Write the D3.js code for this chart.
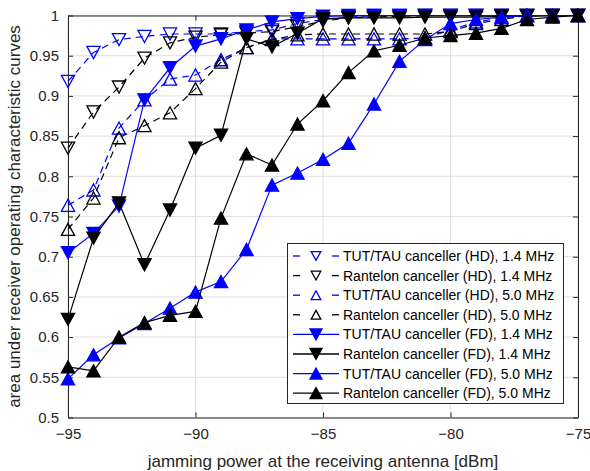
<!DOCTYPE html>
<html><head><meta charset="utf-8">
<script src="https://cdn.jsdelivr.net/npm/d3@7"></script>
<style>body{margin:0;background:#fff;} svg{display:block;font-family:"Liberation Sans",Arial,sans-serif;}</style>
</head><body>
<svg id="c" width="590" height="471"></svg>
<script>
const xValues = [-95,-94,-93,-92,-91,-90,-89,-88,-87,-86,-85,-84,-83,-82,-81,-80,-79,-78,-77,-76,-75];
const tutHD14  = [0.918,0.954,0.970,0.974,0.977,0.977,0.977,0.980,0.982,0.990,0.995,0.998,1.0,1.0,1.0,1.0,1.0,1.0,1.0,1.0,1.0];
const ranHD14  = [0.835,0.880,0.911,0.947,0.966,0.973,0.976,0.978,0.980,0.986,0.993,0.997,0.998,0.999,1.0,1.0,1.0,1.0,1.0,1.0,1.0];
const tutHD50  = [0.764,0.783,0.860,0.895,0.921,0.926,0.945,0.960,0.971,0.971,0.971,0.971,0.971,0.971,0.972,0.982,0.992,0.997,1.0,1.0,1.0];
const ranHD50  = [0.734,0.773,0.848,0.863,0.879,0.909,0.942,0.960,0.970,0.976,0.977,0.977,0.977,0.977,0.977,0.980,0.990,0.995,1.0,1.0,1.0];
const tutFD14  = [0.705,0.729,0.763,0.895,0.935,0.962,0.971,0.982,0.992,0.996,0.999,1.0,1.0,1.0,1.0,1.0,1.0,1.0,1.0,1.0,1.0];
const ranFD14  = [0.622,0.723,0.767,0.690,0.758,0.835,0.851,0.971,0.961,0.978,0.996,0.997,0.997,0.997,0.998,0.998,0.998,0.999,0.999,1.0,1.0];
const tutFD50  = [0.548,0.578,0.599,0.617,0.636,0.656,0.669,0.709,0.789,0.804,0.821,0.841,0.890,0.943,0.970,0.990,0.995,0.998,1.0,1.0,1.0];
const ranFD50  = [0.563,0.558,0.600,0.618,0.627,0.632,0.748,0.828,0.814,0.865,0.894,0.929,0.956,0.963,0.972,0.975,0.978,0.984,0.995,0.998,1.0];
const seriesNames = [
  "TUT/TAU canceller (HD), 1.4 MHz","Rantelon canceller (HD), 1.4 MHz",
  "TUT/TAU canceller (HD), 5.0 MHz","Rantelon canceller (HD), 5.0 MHz",
  "TUT/TAU canceller (FD), 1.4 MHz","Rantelon canceller (FD), 1.4 MHz",
  "TUT/TAU canceller (FD), 5.0 MHz","Rantelon canceller (FD), 5.0 MHz"];
const xTicks = [-95,-90,-85,-80,-75];
const yTicks = [0.5,0.55,0.6,0.65,0.7,0.75,0.8,0.85,0.9,0.95,1];
const xLabel = "jamming power at the receiving antenna [dBm]";
const yLabel = "area under receiver operating characteristic curves";

const series = [
  {name:seriesNames[0], v:tutHD14, color:"#0000ff", dash:true,  tri:"down", filled:false},
  {name:seriesNames[1], v:ranHD14, color:"#000000", dash:true,  tri:"down", filled:false},
  {name:seriesNames[2], v:tutHD50, color:"#0000ff", dash:true,  tri:"up",   filled:false},
  {name:seriesNames[3], v:ranHD50, color:"#000000", dash:true,  tri:"up",   filled:false},
  {name:seriesNames[4], v:tutFD14, color:"#0000ff", dash:false, tri:"down", filled:true},
  {name:seriesNames[5], v:ranFD14, color:"#000000", dash:false, tri:"down", filled:true},
  {name:seriesNames[6], v:tutFD50, color:"#0000ff", dash:false, tri:"up",   filled:true},
  {name:seriesNames[7], v:ranFD50, color:"#000000", dash:false, tri:"up",   filled:true}
];

const L=68, R=578, T=15.5, B=417.5;
const svg = d3.select("#c");
const x = d3.scaleLinear().domain([-95,-75]).range([L,R]);
const y = d3.scaleLinear().domain([0.5,1]).range([B,T]);

// grid
const g = svg.append("g");
g.selectAll(".gx").data(xTicks).join("line")
  .attr("x1",d=>x(d)).attr("x2",d=>x(d)).attr("y1",T).attr("y2",B)
  .attr("stroke","#dfdfdf").attr("stroke-width",1);
g.selectAll(".gy").data(yTicks).join("line")
  .attr("y1",d=>y(d)).attr("y2",d=>y(d)).attr("x1",L).attr("x2",R)
  .attr("stroke","#dfdfdf").attr("stroke-width",1);

// axes
const axCol="#262626";
const ax = svg.append("g").attr("transform",`translate(0,${B})`)
  .call(d3.axisBottom(x).tickValues(xTicks).tickSizeInner(-5).tickSizeOuter(0).tickPadding(11).tickFormat(d3.format("d")));
const ay = svg.append("g").attr("transform",`translate(${L},0)`)
  .call(d3.axisLeft(y).tickValues(yTicks).tickSizeInner(-5).tickSizeOuter(0).tickPadding(9).tickFormat(d=>d3.format("")(+d.toFixed(2))));
const axT = svg.append("g").attr("transform",`translate(0,${T})`)
  .call(d3.axisTop(x).tickValues(xTicks).tickSizeInner(-5).tickSizeOuter(0).tickFormat(""));
const ayR = svg.append("g").attr("transform",`translate(${R},0)`)
  .call(d3.axisRight(y).tickValues(yTicks).tickSizeInner(-5).tickSizeOuter(0).tickFormat(""));
[ax,ay,axT,ayR].forEach(a=>{
  a.selectAll("path").attr("stroke",axCol).attr("stroke-width",1);
  a.selectAll("line").attr("stroke",axCol);
  a.selectAll("text").attr("fill",axCol).style("font-size","15px").style("font-family","'Liberation Sans',Arial,sans-serif");
});

svg.append("text").attr("x",(L+R)/2).attr("y",467).attr("text-anchor","middle")
  .attr("fill",axCol).style("font-size","17px").text(xLabel);
svg.append("text").attr("transform",`translate(20,${(T+B)/2}) rotate(-90)`).attr("text-anchor","middle")
  .attr("fill",axCol).style("font-size","17px").text(yLabel);

function triPath(dir, s){
  const w=s*0.6, h=s*0.55;
  return dir==="down" ? `M${-w},${-h}L${w},${-h}L0,${h}Z` : `M${-w},${h}L${w},${h}L0,${-h}Z`;
}

const line = d3.line().x((d,i)=>x(xValues[i])).y(d=>y(d));
series.forEach(s=>{
  const sg = svg.append("g");
  sg.append("path").datum(s.v).attr("d",line).attr("fill","none")
    .attr("stroke",s.color).attr("stroke-width",1.2)
    .attr("stroke-dasharray",s.dash?"7,5":null);
  sg.selectAll("path.m").data(s.v).join("path").attr("class","m")
    .attr("transform",(d,i)=>`translate(${x(xValues[i])},${y(d)})`)
    .attr("d",triPath(s.tri, 11))
    .attr("fill",s.filled?s.color:"none").attr("stroke",s.color).attr("stroke-width",1.3);
});

// legend
const lg = svg.append("g");
const lx=287.5, ly=243.5, lw=276, lh=160;
lg.append("rect").attr("x",lx).attr("y",ly).attr("width",lw).attr("height",lh)
  .attr("fill","#fff").attr("stroke",axCol).attr("stroke-width",1);
series.forEach((s,i)=>{
  const cy = 256 + i*19.6;
  if(s.dash){
    lg.append("line").attr("x1",293).attr("x2",300).attr("y1",cy).attr("y2",cy).attr("stroke",s.color).attr("stroke-width",1.3);
    lg.append("line").attr("x1",332).attr("x2",339).attr("y1",cy).attr("y2",cy).attr("stroke",s.color).attr("stroke-width",1.3);
  } else {
    lg.append("line").attr("x1",293).attr("x2",339).attr("y1",cy).attr("y2",cy).attr("stroke",s.color).attr("stroke-width",1.3);
  }
  lg.append("path").attr("transform",`translate(316,${cy})`).attr("d",triPath(s.tri, s.filled?10:8))
    .attr("fill",s.filled?s.color:"none").attr("stroke",s.color).attr("stroke-width",1.3);
  lg.append("text").attr("x",343).attr("y",cy+5).attr("fill","#000").style("font-size","14px").text(s.name);
});
</script>
</body></html>
